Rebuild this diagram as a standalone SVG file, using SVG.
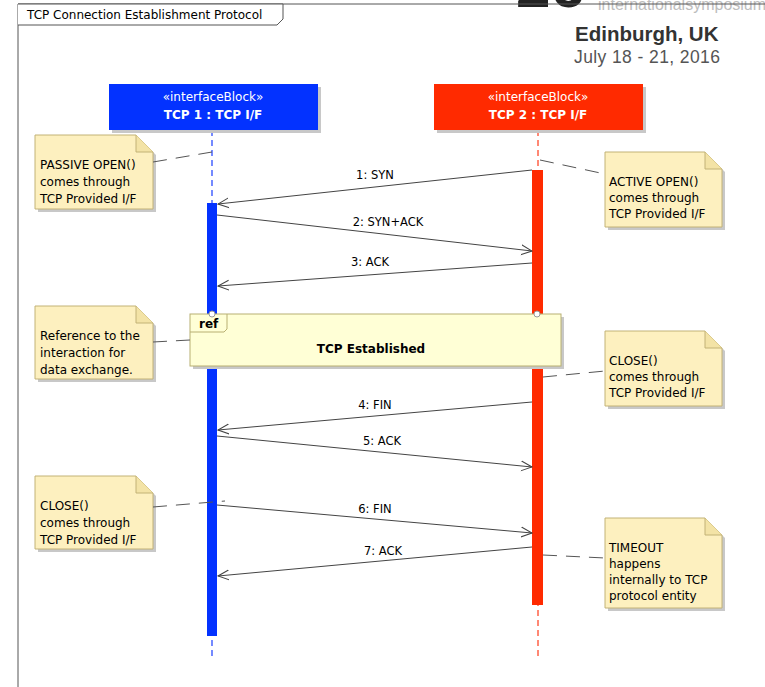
<svg xmlns="http://www.w3.org/2000/svg" width="765" height="687" viewBox="0 0 765 687">
  <style>
    text { font-family: "DejaVu Sans", "Liberation Sans", Arial, sans-serif; }
    .banner { font-family: "Liberation Sans", Arial, sans-serif; }
    .note { fill: #fdf0bf; stroke: #c2b277; stroke-width: 1; }
    .fold { fill: #f3e3a6; stroke: #c2b277; stroke-width: 1; }
    .shadow { fill: #c8c8c8; }
    .ntext { font-size: 12px; fill: #000; }
    .msg { stroke: #444; stroke-width: 1; fill: none; }
    .mlabel { font-size: 11.5px; fill: #000; text-anchor: middle; }
    .anchor { stroke: #555; stroke-width: 1; stroke-dasharray: 14 9; fill: none; }
    .htext { font-size: 12px; fill: #fff; text-anchor: middle; }
  </style>
  <defs>
    <marker id="open" viewBox="0 0 12 12" refX="11" refY="6" markerWidth="12" markerHeight="12" markerUnits="userSpaceOnUse" orient="auto">
      <path d="M0,1 L11,6 L0,11" fill="none" stroke="#444" stroke-width="1"/>
    </marker>
  </defs>

  <rect width="765" height="687" fill="#fff"/>

  <!-- conference banner -->
  <g id="banner">
    <text class="banner" x="516" y="7" font-size="62" font-weight="bold" fill="#222">26</text>
    <text class="banner" x="598" y="10" font-size="16" fill="#bdbdbd">internationalsymposium</text>
    <text class="banner" x="575" y="41" font-size="20.5" font-weight="bold" fill="#333">Edinburgh, UK</text>
    <text class="banner" x="574" y="63" font-size="17.5" fill="#555" letter-spacing="0.4">July 18 - 21, 2016</text>
  </g>

  <!-- diagram frame -->
  <g id="frame">
    <path d="M18,687 L18,4 L765,4" fill="none" stroke="#555" stroke-width="1"/>
    <path d="M18,4 L283,4 L283,19 L277,25 L18,25" fill="#fff" stroke="#555" stroke-width="1"/>
    <text x="27" y="19" font-size="12" fill="#000">TCP Connection Establishment Protocol</text>
  </g>

  <!-- lifelines -->
  <g id="tcp1">
    <line x1="212" y1="130" x2="212" y2="660" stroke="#1a3cff" stroke-width="1.2" stroke-dasharray="6 4"/>
    <rect x="112" y="87" width="209" height="46" class="shadow"/>
    <rect x="109" y="84" width="209" height="46" fill="#0332ff"/>
    <text x="213" y="101" class="htext">«interfaceBlock»</text>
    <text x="213" y="119" class="htext" font-weight="bold">TCP 1 : TCP I/F</text>
    <rect x="207" y="203" width="10" height="433" fill="#0332ff"/>
  </g>
  <g id="tcp2">
    <line x1="538" y1="130" x2="538" y2="660" stroke="#ff3a1a" stroke-width="1.2" stroke-dasharray="6 4"/>
    <rect x="437" y="87" width="209" height="46" class="shadow"/>
    <rect x="434" y="84" width="209" height="46" fill="#ff2a00"/>
    <text x="538" y="101" class="htext">«interfaceBlock»</text>
    <text x="538" y="119" class="htext" font-weight="bold">TCP 2 : TCP I/F</text>
    <rect x="532" y="170" width="11" height="435" fill="#ff2a00"/>
  </g>

  <!-- interaction use -->
  <g id="ref-established">
    <rect x="193" y="317" width="371" height="52" class="shadow"/>
    <rect x="190" y="314" width="371" height="52" fill="#ffffd6" stroke="#b8af72" stroke-width="1"/>
    <path d="M190,332 L224,332 L227,329 L227,314" fill="none" stroke="#b8af72" stroke-width="1"/>
    <text x="199" y="328" font-size="12" font-weight="bold" fill="#000">ref</text>
    <text x="371" y="353" font-size="12" font-weight="bold" fill="#000" text-anchor="middle">TCP Established</text>
    <circle cx="212" cy="314" r="3" fill="#fff" stroke="#999" stroke-width="1"/>
    <circle cx="537" cy="314" r="3" fill="#fff" stroke="#999" stroke-width="1"/>
  </g>

  <!-- notes -->
  <g id="note-passive">
    <path d="M38,138 L139,138 L156,155 L156,212 L38,212 Z" class="shadow"/>
    <path d="M35,135 L136,135 L153,152 L153,209 L35,209 Z" class="note"/>
    <path d="M136,135 L136,152 L153,152" class="fold"/>
    <text class="ntext"><tspan x="40" y="169">PASSIVE OPEN()</tspan><tspan x="40" y="186">comes through</tspan><tspan x="40" y="203">TCP Provided I/F</tspan></text>
  </g>
  <g id="note-active">
    <path d="M608,155 L708,155 L725,172 L725,230 L608,230 Z" class="shadow"/>
    <path d="M605,152 L705,152 L722,169 L722,227 L605,227 Z" class="note"/>
    <path d="M705,152 L705,169 L722,169" class="fold"/>
    <text class="ntext"><tspan x="609" y="186">ACTIVE OPEN()</tspan><tspan x="609" y="202">comes through</tspan><tspan x="609" y="218">TCP Provided I/F</tspan></text>
  </g>
  <g id="note-reference">
    <path d="M38,309 L139,309 L156,326 L156,382 L38,382 Z" class="shadow"/>
    <path d="M35,306 L136,306 L153,323 L153,379 L35,379 Z" class="note"/>
    <path d="M136,306 L136,323 L153,323" class="fold"/>
    <text class="ntext"><tspan x="40" y="340">Reference to the</tspan><tspan x="40" y="357">interaction for</tspan><tspan x="40" y="374">data exchange.</tspan></text>
  </g>
  <g id="note-close-right">
    <path d="M608,334 L708,334 L725,351 L725,409 L608,409 Z" class="shadow"/>
    <path d="M605,331 L705,331 L722,348 L722,406 L605,406 Z" class="note"/>
    <path d="M705,331 L705,348 L722,348" class="fold"/>
    <text class="ntext"><tspan x="609" y="365">CLOSE()</tspan><tspan x="609" y="381">comes through</tspan><tspan x="609" y="397">TCP Provided I/F</tspan></text>
  </g>
  <g id="note-close-left">
    <path d="M38,479 L139,479 L156,496 L156,552 L38,552 Z" class="shadow"/>
    <path d="M35,476 L136,476 L153,493 L153,549 L35,549 Z" class="note"/>
    <path d="M136,476 L136,493 L153,493" class="fold"/>
    <text class="ntext"><tspan x="40" y="510">CLOSE()</tspan><tspan x="40" y="527">comes through</tspan><tspan x="40" y="544">TCP Provided I/F</tspan></text>
  </g>
  <g id="note-timeout">
    <path d="M608,521 L708,521 L725,538 L725,611 L608,611 Z" class="shadow"/>
    <path d="M605,518 L705,518 L722,535 L722,608 L605,608 Z" class="note"/>
    <path d="M705,518 L705,535 L722,535" class="fold"/>
    <text class="ntext"><tspan x="609" y="552">TIMEOUT</tspan><tspan x="609" y="568">happens</tspan><tspan x="609" y="584">internally to TCP</tspan><tspan x="609" y="600">protocol entity</tspan></text>
  </g>

  <!-- connectors: messages and note anchors -->
  <g id="connectors">
    <line class="anchor" x1="153" y1="162" x2="212" y2="152"/>
    <line class="anchor" x1="540" y1="160" x2="605" y2="174"/>
    <line class="anchor" x1="153" y1="342" x2="190" y2="340"/>
    <line class="anchor" x1="543" y1="377" x2="605" y2="371"/>
    <line class="anchor" x1="153" y1="507" x2="225" y2="501"/>
    <line class="anchor" x1="543" y1="555" x2="605" y2="558"/>

    <line class="msg" x1="532" y1="170" x2="218" y2="204" marker-end="url(#open)"/>
    <text class="mlabel" x="375" y="179">1: SYN</text>
    <line class="msg" x1="217" y1="215" x2="532" y2="251" marker-end="url(#open)"/>
    <text class="mlabel" x="388" y="226">2: SYN+ACK</text>
    <line class="msg" x1="532" y1="263" x2="218" y2="286" marker-end="url(#open)"/>
    <text class="mlabel" x="370" y="266">3: ACK</text>
    <line class="msg" x1="532" y1="402" x2="218" y2="430" marker-end="url(#open)"/>
    <text class="mlabel" x="375" y="409">4: FIN</text>
    <line class="msg" x1="217" y1="436" x2="532" y2="467" marker-end="url(#open)"/>
    <text class="mlabel" x="382" y="445">5: ACK</text>
    <line class="msg" x1="217" y1="505" x2="532" y2="533" marker-end="url(#open)"/>
    <text class="mlabel" x="375" y="513">6: FIN</text>
    <line class="msg" x1="532" y1="547" x2="218" y2="576" marker-end="url(#open)"/>
    <text class="mlabel" x="383" y="555">7: ACK</text>
  </g>
</svg>
